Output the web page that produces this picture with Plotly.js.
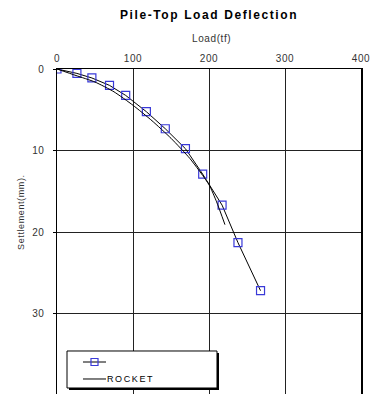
<!DOCTYPE html>
<html><head><meta charset="utf-8">
<script src="https://cdn.plot.ly/plotly-3.0.1.min.js"></script>
<style>
html,body{margin:0;padding:0;overflow:hidden;background:#fff;}
#chart{width:374px;height:400px;}
.gtitle{letter-spacing:1.6px;}
.xtick text,.ytick text{letter-spacing:0.6px;}
.annotation-text{letter-spacing:0.6px;}
g.annotation[data-index="2"] .annotation-text{letter-spacing:1.6px;}
</style></head><body>
<div id="chart"></div>
<script>
// Measured series (load in tf, settlement in mm)
const measLoad = [0, 26.2, 45.9, 69.1, 90.4, 117.6, 142.5, 169.0, 191.7, 217.2, 238.1, 267.8];
const measSettle = [0, 0.54, 1.10, 2.01, 3.24, 5.24, 7.33, 9.78, 12.9, 16.7, 21.3, 27.2];
// ROCKET prediction curve
const rocketLoad = [0, 25, 50, 75, 100, 125, 150, 175, 200, 210, 221];
const rocketSettle = [0, 0.8, 1.6, 2.8, 4.45, 6.35, 8.5, 11.0, 14.2, 16.3, 19.1];
const xTicks = [0, 100, 200, 300, 400];
const yTicks = [0, 10, 20, 30, 40];
const seriesNames = ['', 'ROCKET'];

const traces = [
  {x: measLoad, y: measSettle, name: seriesNames[0], mode: 'lines+markers', type: 'scatter',
   line: {color: '#000', width: 1},
   marker: {symbol: 'square-open', size: 8, color: '#3a3ad8', line: {width: 1.2, color: '#3a3ad8'}}},
  {x: rocketLoad, y: rocketSettle, name: seriesNames[1], mode: 'lines', type: 'scatter',
   line: {color: '#000', width: 1, shape: 'spline', smoothing: 0.6}}
];

// Legend box drawn as decoration (paper coordinates)
const legendShapes = [
  {type: 'rect', xref: 'paper', yref: 'paper', x0: 0.0395, x1: 0.5329, y0: 0.0153, y1: 0.1288,
   fillcolor: '#000', line: {width: 0}, layer: 'above'},
  {type: 'rect', xref: 'paper', yref: 'paper', x0: 0.0329, x1: 0.5263, y0: 0.0215, y1: 0.1350,
   fillcolor: '#fff', line: {width: 1, color: '#000'}, layer: 'above'},
  {type: 'line', xref: 'paper', yref: 'paper', x0: 0.0855, x1: 0.1612, y0: 0.1012, y1: 0.1012,
   line: {width: 1, color: '#000'}, layer: 'above'},
  {type: 'rect', xref: 'paper', yref: 'paper', x0: 0.1118, x1: 0.1349, y0: 0.0905, y1: 0.1120,
   fillcolor: 'rgba(0,0,0,0)', line: {width: 1.2, color: '#3a3ad8'}, layer: 'above'},
  {type: 'line', xref: 'paper', yref: 'paper', x0: 0.0855, x1: 0.1612, y0: 0.0491, y1: 0.0491,
   line: {width: 1, color: '#000'}, layer: 'above'}
];

const layout = {
  width: 374, height: 400,
  margin: {l: 57, r: 13, t: 69, b: 5},
  paper_bgcolor: '#fff', plot_bgcolor: '#fff',
  font: {family: 'Liberation Sans, Arial, sans-serif', size: 10, color: '#333'},
  title: {text: '<b>Pile-Top Load Deflection</b>', x: 0.559, xref: 'container', y: 0.9625, yref: 'container',
          xanchor: 'center', yanchor: 'middle', font: {size: 12, color: '#000'}},
  xaxis: {side: 'top', range: [0, 400], tickvals: xTicks, ticktext: xTicks.map(String),
          showgrid: true, gridcolor: '#222', gridwidth: 1, showline: true, linecolor: '#000', linewidth: 1.5,
          mirror: true, ticks: '', zeroline: false, ticklabelstandoff: 2},
  yaxis: {range: [40, 0], tickvals: yTicks, ticktext: yTicks.map(String),
          showgrid: true, gridcolor: '#222', gridwidth: 1, showline: true, linecolor: '#000', linewidth: 1.5,
          mirror: true, ticks: 'outside', ticklen: 3, tickcolor: '#000', zeroline: false, ticklabelstandoff: 6},
  showlegend: false,
  shapes: legendShapes,
  annotations: [
    {text: 'Load(tf)', xref: 'paper', yref: 'paper', x: 0.507, y: 1.093, showarrow: false,
     xanchor: 'center', yanchor: 'middle', font: {size: 10, color: '#333'}},
    {text: 'Settlement(mm).', xref: 'paper', yref: 'paper', x: -0.118, y: 0.562, showarrow: false,
     textangle: -90, xanchor: 'center', yanchor: 'middle', font: {size: 9, color: '#333'}},
    {text: seriesNames[1], xref: 'paper', yref: 'paper', x: 0.1678, y: 0.0491, showarrow: false,
     xanchor: 'left', yanchor: 'middle', font: {size: 9, color: '#000'}}
  ]
};
Plotly.newPlot('chart', traces, layout, {staticPlot: true, displayModeBar: false});
</script>
</body></html>
